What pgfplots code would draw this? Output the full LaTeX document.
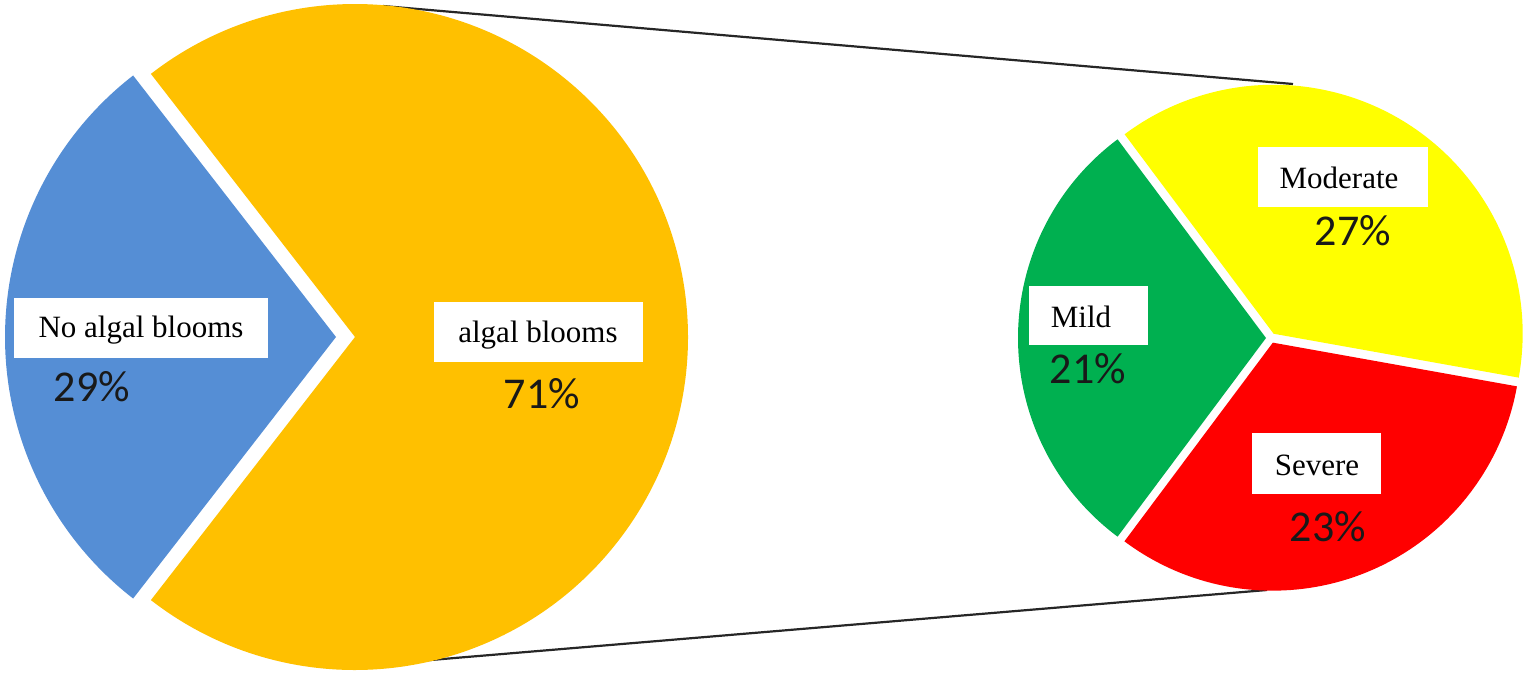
\documentclass[border=0pt]{standalone}
\usepackage{fontspec}
\setmainfont{Liberation Serif}
\newfontfamily\calibri{Carlito}
\usepackage{pgfplots}
\usepackage{pgfplotstable}
\pgfplotsset{compat=1.18}
\definecolor{cBlue}{RGB}{85,142,213}
\definecolor{cOrange}{RGB}{255,192,0}
\definecolor{cGreen}{RGB}{0,176,80}
\definecolor{cYellow}{RGB}{255,255,0}
\definecolor{cRed}{RGB}{255,0,0}
\definecolor{cText}{RGB}{25,25,25}

% main pie
\pgfplotstableread{
label value
NoBlooms 29
Blooms 71
}\maintable
% sub pie (breakdown of algal blooms)
\pgfplotstableread{
label value
Mild 21
Moderate 27
Severe 23
}\subtable

\begin{document}%
\begin{tikzpicture}
\pgfplotstablegetelem{0}{value}\of\maintable\let\vNo\pgfplotsretval
\pgfplotstablegetelem{1}{value}\of\maintable\let\vYes\pgfplotsretval
\pgfplotstablegetelem{0}{value}\of\subtable\let\vMild\pgfplotsretval
\pgfplotstablegetelem{1}{value}\of\subtable\let\vMod\pgfplotsretval
\pgfplotstablegetelem{2}{value}\of\subtable\let\vSev\pgfplotsretval
\pgfmathsetmacro\totM{\vNo+\vYes}%
\pgfmathsetmacro\aB{180-\vNo/\totM*180}%
\pgfmathsetmacro\bB{180+\vNo/\totM*180}%
\pgfmathsetmacro\eO{\aB+360}%
\pgfmathsetmacro\totS{\vMild+\vMod+\vSev}%
\pgfmathsetmacro\gA{180-\vMild/\totS*180}%
\pgfmathsetmacro\gB{180+\vMild/\totS*180}%
\pgfmathsetmacro\rB{\gB+\vSev/\totS*360}%
\pgfmathsetmacro\yB{\gA+360}%
\pgfmathsetmacro\rM{(\gB+\rB)/2}%
\pgfmathsetmacro\yM{(\rB+\yB)/2}%
\begin{axis}[width=1535pt,height=677pt,scale only axis,
  xmin=0,xmax=1535,ymin=0,ymax=677,y dir=reverse,
  hide axis,clip=false]
% connector lines
\addplot[black!85, line width=2.2pt] coordinates {(383,6) (1293,84)};
\addplot[black!85, line width=2.2pt] coordinates {(383,664) (1267,590)};
% left pie
\fill[cBlue] (axis cs:350,337) ++(180:14pt) -- ++(\aB:331pt)
  arc[start angle=\aB,end angle=\bB,radius=331pt] -- cycle;
\fill[cOrange] (axis cs:350,337) ++(0:5pt) -- ++(\bB:333pt)
  arc[start angle=\bB,end angle=\eO,radius=333pt] -- cycle;
% right pie
\fill[cGreen] (axis cs:1271,338) ++(180:5pt) -- ++(\gA:248pt)
  arc[start angle=\gA,end angle=\gB,radius=248pt] -- cycle;
\fill[cRed] (axis cs:1271,338) ++(\rM:5pt) -- ++(\gB:248pt)
  arc[start angle=\gB,end angle=\rB,radius=248pt] -- cycle;
\fill[cYellow] (axis cs:1271,338) ++(\yM:5pt) -- ++(\rB:249pt)
  arc[start angle=\rB,end angle=\yB,radius=249pt] -- cycle;
% label boxes
\fill[white] (axis cs:14,298) rectangle (axis cs:268,358);
\fill[white] (axis cs:434,302) rectangle (axis cs:643,362);
\fill[white] (axis cs:1258,147) rectangle (axis cs:1428,207);
\fill[white] (axis cs:1029,286) rectangle (axis cs:1148,345);
\fill[white] (axis cs:1252,433) rectangle (axis cs:1381,494);
% category labels
\node[anchor=base,inner sep=0pt,font=\fontsize{31}{31}\selectfont] at (axis cs:141,337) {No algal blooms};
\node[anchor=base,inner sep=0pt,font=\fontsize{31}{31}\selectfont] at (axis cs:538,342) {algal blooms};
\node[anchor=base,inner sep=0pt,font=\fontsize{31}{31}\selectfont] at (axis cs:1339,188) {Moderate};
\node[anchor=base,inner sep=0pt,font=\fontsize{31}{31}\selectfont] at (axis cs:1081,327) {Mild};
\node[anchor=base,inner sep=0pt,font=\fontsize{31}{31}\selectfont] at (axis cs:1317,475) {Severe};
% percentages
\node[anchor=base,inner sep=0pt,text=cText,font=\calibri\fontsize{44}{44}\selectfont] at (axis cs:92,401) {\vNo\%};
\node[anchor=base,inner sep=0pt,text=cText,font=\calibri\fontsize{44}{44}\selectfont] at (axis cs:542,408) {\vYes\%};
\node[anchor=base,inner sep=0pt,text=cText,font=\calibri\fontsize{44}{44}\selectfont] at (axis cs:1353,245) {\vMod\%};
\node[anchor=base,inner sep=0pt,text=cText,font=\calibri\fontsize{44}{44}\selectfont] at (axis cs:1088,383) {\vMild\%};
\node[anchor=base,inner sep=0pt,text=cText,font=\calibri\fontsize{44}{44}\selectfont] at (axis cs:1328,541) {\vSev\%};
\end{axis}
\pgfresetboundingbox
\path[use as bounding box] (current axis.south west) rectangle (current axis.north east);
\end{tikzpicture}%
\end{document}
